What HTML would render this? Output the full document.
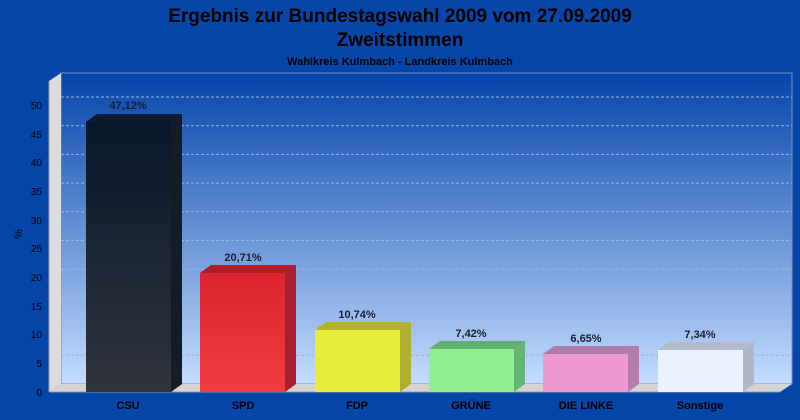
<!DOCTYPE html><html><head><style>body{margin:0;background:#0646a9}svg{display:block}text{font-family:"Liberation Sans",sans-serif}</style></head><body>
<svg width="800" height="420" xmlns="http://www.w3.org/2000/svg">
<defs>
<linearGradient id="bw" x1="0" y1="0" x2="0" y2="1"><stop offset="0" stop-color="#0444aa"/><stop offset="1" stop-color="#c4dcff"/></linearGradient>
<linearGradient id="csu" x1="0" y1="0" x2="0" y2="1"><stop offset="0" stop-color="#08172c"/><stop offset="1" stop-color="#30343c"/></linearGradient>
<linearGradient id="spd" x1="0" y1="0" x2="0" y2="1"><stop offset="0" stop-color="#dc2430"/><stop offset="1" stop-color="#f03c40"/></linearGradient>
</defs>
<rect width="800" height="420" fill="#0646a9"/>
<text x="400" y="22" font-size="19" font-weight="bold" text-anchor="middle" fill="#000">Ergebnis zur Bundestagswahl 2009 vom 27.09.2009</text>
<text x="400" y="46" font-size="19" font-weight="bold" text-anchor="middle" fill="#000">Zweitstimmen</text>
<text x="400" y="65" font-size="11" font-weight="bold" text-anchor="middle" fill="#000">Wahlkreis Kulmbach - Landkreis Kulmbach</text>
<rect x="61" y="73" width="731" height="311" fill="url(#bw)" stroke="#7890c0" stroke-width="1"/>
<polygon points="49,81 61,73 61,384 49,392" fill="#dcdcdc"/>
<polygon points="49,392 61,384 792,384 780,392" fill="#d4d4d4"/>
<g stroke="#9ab4e0" stroke-dasharray="3,2" stroke-width="1">
<line x1="61" y1="355.3" x2="792" y2="355.3"/><line x1="61" y1="326.6" x2="792" y2="326.6"/><line x1="61" y1="297.9" x2="792" y2="297.9"/><line x1="61" y1="269.2" x2="792" y2="269.2"/><line x1="61" y1="240.5" x2="792" y2="240.5"/><line x1="61" y1="211.8" x2="792" y2="211.8"/><line x1="61" y1="183.1" x2="792" y2="183.1"/><line x1="61" y1="154.4" x2="792" y2="154.4"/><line x1="61" y1="125.7" x2="792" y2="125.7"/><line x1="61" y1="97" x2="792" y2="97"/>
</g>
<line x1="49" y1="392" x2="49" y2="81" stroke="#999"/>
<line x1="49" y1="392" x2="780" y2="392" stroke="#999"/>
<g font-size="10" fill="#000" text-anchor="end">
<text x="42" y="396">0</text><text x="42" y="367">5</text><text x="42" y="338">10</text><text x="42" y="310">15</text><text x="42" y="281">20</text><text x="42" y="252">25</text><text x="42" y="224">30</text><text x="42" y="195">35</text><text x="42" y="166">40</text><text x="42" y="138">45</text><text x="42" y="109">50</text>
</g>
<text x="22" y="234" font-size="11" fill="#000" transform="rotate(-90 22 234)" text-anchor="middle">%</text>
<g id="bars">
<polygon points="86,122 97,114 182,114 171,122" fill="#0c1a30"/><polygon points="171,122 182,114 182,384 171,392" fill="#141c28"/><rect x="86" y="122" width="85" height="270" fill="url(#csu)"/>
<polygon points="200,273 211,265 296,265 285,273" fill="#b01c2a"/><polygon points="285,273 296,265 296,384 285,392" fill="#a82030"/><rect x="200" y="273" width="85" height="119" fill="url(#spd)"/>
<polygon points="315,330 326,322 411,322 400,330" fill="#b4b428"/><polygon points="400,330 411,322 411,384 400,392" fill="#b0b030"/><rect x="315" y="330" width="85" height="62" fill="#eaec3c"/>
<polygon points="429,349 440,341 525,341 514,349" fill="#60b070"/><polygon points="514,349 525,341 525,384 514,392" fill="#64b474"/><rect x="429" y="349" width="85" height="43" fill="#8ef092"/>
<polygon points="543,354 554,346 639,346 628,354" fill="#b07ca8"/><polygon points="628,354 639,346 639,384 628,392" fill="#b47cac"/><rect x="543" y="354" width="85" height="38" fill="#ee98d4"/>
<polygon points="658,350 669,342 754,342 743,350" fill="#b4bccc"/><polygon points="743,350 754,342 754,384 743,392" fill="#b0b8c8"/><rect x="658" y="350" width="85" height="42" fill="#eaf2ff"/>
</g>
<g font-size="11" font-weight="bold" fill="#1a2030" text-anchor="middle">
<text x="128" y="109">47,12%</text><text x="243" y="261">20,71%</text><text x="357" y="318">10,74%</text><text x="471" y="337">7,42%</text><text x="586" y="342">6,65%</text><text x="700" y="338">7,34%</text>
</g>
<g font-size="11" font-weight="bold" fill="#000" text-anchor="middle">
<text x="128" y="409">CSU</text><text x="243" y="409">SPD</text><text x="357" y="409">FDP</text><text x="471" y="409">GRÜNE</text><text x="586" y="409">DIE LINKE</text><text x="700" y="409">Sonstige</text>
</g>
</svg></body></html>
